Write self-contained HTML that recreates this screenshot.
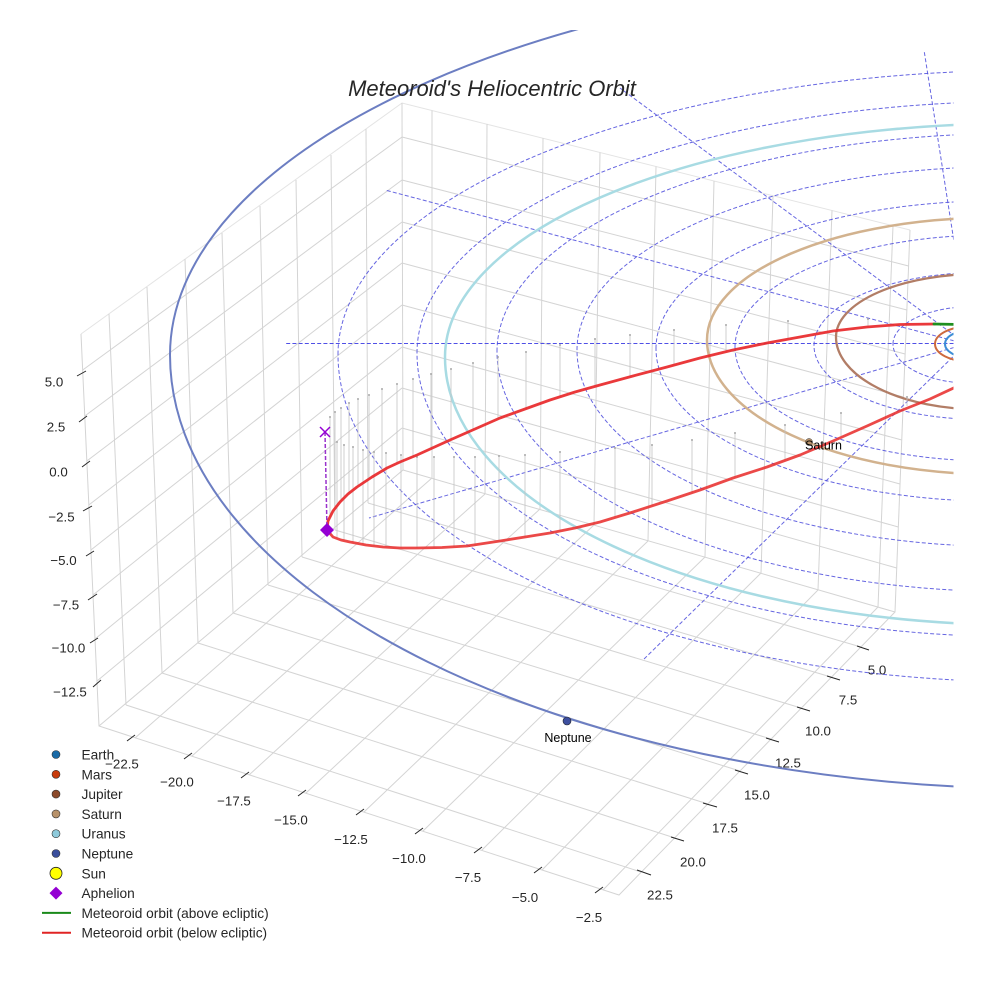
<!DOCTYPE html>
<html><head><meta charset="utf-8"><style>
html,body{margin:0;padding:0;background:#fff;}
svg{display:block;font-family:"Liberation Sans",Arial,sans-serif;}
</style></head><body>
<svg width="984" height="984" viewBox="0 0 984 984" xmlns="http://www.w3.org/2000/svg">
<defs><clipPath id="c"><rect x="0" y="30" width="953.5" height="930"/></clipPath></defs>
<rect width="984" height="984" fill="#fff"/>

<!-- pane outlines -->
<g fill="none" stroke="#e4e4e4" stroke-width="1">
<path d="M81,334 L402,103 L910,230"/>
</g>
<g fill="none" stroke="#d4d4d4" stroke-width="1">
<path d="M81,334 L99,726 L619,895 L895,612 L910,230"/>
<path d="M402,103 L403,470 L99,726"/>
<path d="M403,470 L895,612"/>
<path d="M126,705 L109,314 M162,673 L147,287 M198,643 L185,259 M233,613 L222,233 M268,585 L260,206 M302,557 L296,180 M335,530 L331,155 M368,503 L366,129"/>
<path d="M82.7,370 L402,137 M84.8,416 L402,180 M86.8,461 L402,222 M88.8,505 L402,263 M90.9,550 L402,305 M93,595 L402,347 M95,639 L402,388 M97,681 L402,428"/>
<path d="M402,137 L908.6,266 M402,180 L906.9,310 M402,222 L905.1,354 M402,263 L903.5,397 M402,305 L901.8,440 M402,347 L900,484 M402,388 L898.3,527 M402,428 L896.7,568"/>
<path d="M432,110.5 L432,478 M487,124 L485,494 M543,138 L540,509 M600,152.5 L594,525 M656,166.5 L648,541 M714,181 L705,557 M773,196 L761,573 M832,210.5 L818,590 M893,226 L878,607"/>
<path d="M135,738 L432,478 M192,756 L485,494 M249,775 L540,509 M306,793 L594,525 M364,812 L648,541 M423,831 L705,557 M482,850 L761,573 M542,870 L818,590 M603,890 L878,607"/>
<path d="M126,705 L641,872 M162,673 L675,838 M198,643 L708,804 M233,613 L740,771 M268,585 L771,739 M302,557 L801,708 M335,530 L831,677 M368,503 L861,647"/>
</g>

<!-- ticks -->
<g stroke="#262626" stroke-width="1" fill="none">
<path d="M77,376 L86,371 M79,422 L87,416 M82,467 L90,461 M83,511 L92,506 M86,556 L94,551 M88,600 L97,594 M90,643 L98,638 M93,687 L101,680"/>
<path d="M127,741 L135,735 M184,759 L192,753 M241,778 L249,772 M298,796 L306,790 M356,815 L364,809 M415,834 L423,828 M474,853 L482,847 M534,873 L542,867 M595,893 L603,887"/>
<path d="M857,646 L869,650 M827,676 L840,680 M797,707 L810,711 M766,738 L779,742 M735,770 L748,774 M703,803 L717,807 M671,837 L684,841 M637,870 L651,875"/>
</g>

<!-- tick labels -->
<g font-size="13.3" fill="#262626" text-anchor="middle">
<text x="54" y="386.5">5.0</text>
<text x="56" y="431.5">2.5</text>
<text x="58.5" y="476.5">0.0</text>
<text x="61.5" y="521.5">−2.5</text>
<text x="63.5" y="565">−5.0</text>
<text x="66" y="609.5">−7.5</text>
<text x="68.5" y="652.5">−10.0</text>
<text x="70" y="696.5">−12.5</text>

<text x="122" y="768.5">−22.5</text>
<text x="177" y="786.7">−20.0</text>
<text x="234" y="805.7">−17.5</text>
<text x="291" y="824.7">−15.0</text>
<text x="351" y="844.2">−12.5</text>
<text x="409" y="863.2">−10.0</text>
<text x="468" y="882.2">−7.5</text>
<text x="525" y="902.2">−5.0</text>
<text x="589" y="922.2">−2.5</text>

<text x="877" y="674.7">5.0</text>
<text x="848" y="704.7">7.5</text>
<text x="818" y="735.7">10.0</text>
<text x="788" y="767.7">12.5</text>
<text x="757" y="799.7">15.0</text>
<text x="725" y="832.7">17.5</text>
<text x="693" y="866.7">20.0</text>
<text x="660" y="899.7">22.5</text>
</g>

<g clip-path="url(#c)">
<g fill="none" stroke="#4b4bdc" stroke-opacity="0.85" stroke-width="1" stroke-dasharray="4,2.2">
<path d="M893,344 A80.7,37.5 0 0 1 1054.4,344 A80.7,39.5 0 0 1 893,344"/>
<path d="M814,345.5 A168,73 0 0 1 1150,345.5 A168,74 0 0 1 814,345.5"/>
<path d="M735,347 A255.4,112 0 0 1 1245.8,347 A255.4,114 0 0 1 735,347"/>
<path d="M656,348.5 A342.7,147.8 0 0 1 1341.4,348.5 A342.7,152.9 0 0 1 656,348.5"/>
<path d="M577,350 A430,183.4 0 0 1 1437,350 A430,196.6 0 0 1 577,350"/>
<path d="M497,351.5 A518.5,218.1 0 0 1 1534,351.5 A518.5,240.3 0 0 1 497,351.5"/>
<path d="M417,353 A606.9,251.7 0 0 1 1630.8,353 A606.9,284 0 0 1 417,353"/>
<path d="M338,354.5 A694.3,284.4 0 0 1 1726.6,354.5 A694.3,327.6 0 0 1 338,354.5"/>
<path d="M966,344 L385,190 M966,344 L620,88 M970,344 L924,50 M966,344 L369,518 M966,344 L643,660"/>
</g>
<path d="M966,343.5 L285,343.5" fill="none" stroke="#4f4fe6" stroke-width="1" stroke-dasharray="4,2.2"/>

<g fill="none">
<path d="M170,355 A880,386 0 0 1 1930,355 A880,434 0 0 1 170,355" stroke="#6c7ec2" stroke-width="2"/>
<path d="M445,357 A576,233.6 0 0 1 1597,357 A576,267.9 0 0 1 445,357" stroke="#a8dbe3" stroke-width="2.5"/>
<path d="M707,340 A286.3,122.3 0 0 1 1279.6,340 A286.3,134.3 0 0 1 707,340" stroke="#d2b28e" stroke-width="2.5"/>
<path d="M836,337 A143.7,63.1 0 0 1 1123.4,337 A143.7,72.3 0 0 1 836,337" stroke="#b27d66" stroke-width="2.3"/>
<path d="M935,344 A34.3,17.5 0 0 1 1003.6,344 A34.3,17.5 0 0 1 935,344" stroke="#cd6a3e" stroke-width="2"/>
<path d="M945,344 A23.2,13.2 0 0 1 991.4,344 A23.2,13.2 0 0 1 945,344" stroke="#3d8ed6" stroke-width="2"/>
</g>

<g stroke="#c4c4c4" stroke-width="0.8" fill="none">
<path d="M330,417 L330,517 M335,412 L335,509 M341,408 L341,501 M349,403 L349,493 M358,399 L358,486 M369,395 L369,479 M382,389 L382,471 M397,384 L397,463 M413,379 L413,457 M431,374 L431,450 M451,369 L451,440 M473,363 L473,430 M498,357 L498,419 M526,352 L526,409 M560,345 L560,397 M595,339 L595,386 M630,335 L630,377 M674,330 L674,365 M726,325 L726,352 M788,321 L788,339 M868,319 L868,327"/>
<path d="M337,442 L337,538 M344,445 L344,540 M353,447 L353,542.5 M363,450 L363,544.5 M374,452 L374,546 M386,453 L386,547 M401,455 L401,548 M417,457 L417,548 M434,457 L434,548 M454,457 L454,547 M475,457 L475,545.5 M499,456 L499,541 M525,455 L525,537 M560,452 L560,531 M615,448 L615,517 M652,445 L652,506 M692,440 L692,493 M735,433 L735,477 M785,425 L785,460 M841,413 L841,436 M907,397 L907,406"/>
</g>
<g fill="#a8a8a8">
<circle cx="330" cy="417" r="1"/><circle cx="335" cy="412" r="1"/><circle cx="341" cy="408" r="1"/><circle cx="349" cy="403" r="1"/><circle cx="358" cy="399" r="1"/><circle cx="369" cy="395" r="1"/><circle cx="382" cy="389" r="1"/><circle cx="397" cy="384" r="1"/><circle cx="413" cy="379" r="1"/><circle cx="431" cy="374" r="1"/><circle cx="451" cy="369" r="1"/><circle cx="473" cy="363" r="1"/><circle cx="498" cy="357" r="1"/><circle cx="526" cy="352" r="1"/><circle cx="560" cy="345" r="1"/><circle cx="595" cy="339" r="1"/><circle cx="630" cy="335" r="1"/><circle cx="674" cy="330" r="1"/><circle cx="726" cy="325" r="1"/><circle cx="788" cy="321" r="1"/><circle cx="868" cy="319" r="1"/>
<circle cx="337" cy="442" r="1"/><circle cx="344" cy="445" r="1"/><circle cx="353" cy="447" r="1"/><circle cx="363" cy="450" r="1"/><circle cx="374" cy="452" r="1"/><circle cx="386" cy="453" r="1"/><circle cx="401" cy="455" r="1"/><circle cx="417" cy="457" r="1"/><circle cx="434" cy="457" r="1"/><circle cx="454" cy="457" r="1"/><circle cx="475" cy="457" r="1"/><circle cx="499" cy="456" r="1"/><circle cx="525" cy="455" r="1"/><circle cx="560" cy="452" r="1"/><circle cx="615" cy="448" r="1"/><circle cx="652" cy="445" r="1"/><circle cx="692" cy="440" r="1"/><circle cx="735" cy="433" r="1"/><circle cx="785" cy="425" r="1"/><circle cx="841" cy="413" r="1"/><circle cx="907" cy="397" r="1"/>
</g>

<g fill="none" stroke-width="2.8" stroke-linejoin="round" stroke-linecap="round">
<path stroke="#e8282a" stroke-opacity="0.92" d="M327,530 L328,521 L333,511 L340,502 L348,494 L357,487 L372,477 L387,468 L400,462 L417,455 L450,440 L475,429 L500,418 L525,409 L550,400 L575,392 L600,385 L633,376 L667,367 L700,358 L733,350 L767,343 L800,337 L833,331 L867,327 L900,324.5 L935,324"/>
<path stroke="#e8302f" stroke-opacity="0.88" d="M327,530 L333,537 L341,540 L350,542 L366,545 L383,547 L400,548 L417,548 L442,547.5 L467,546 L500,541 L525,537 L550,533 L575,528 L600,522 L633,512 L667,501 L700,490 L733,478 L767,467 L800,455 L833,441 L867,426 L900,411 L930,399 L960,385"/>
<path stroke="#1f8f1f" d="M934,324 L960,324.5"/>
</g>

<path d="M325,432 L327,530" stroke="#9932cc" stroke-width="1.5" stroke-dasharray="4,2" fill="none"/>
<path d="M320,427 L330,437 M330,427 L320,437" stroke="#9400d3" stroke-width="1.5"/>
<path d="M327,523 L334,530 L327,537 L320,530 Z" fill="#9400d3"/>

<circle cx="809" cy="442" r="3.5" fill="#b8926a" stroke="#333" stroke-width="0.5"/>
<circle cx="567" cy="721" r="4" fill="#3d4f9f" stroke="#222" stroke-width="0.6"/>
</g>

<text x="823.5" y="449.5" font-size="12.5" fill="#000" text-anchor="middle">Saturn</text>
<text x="568" y="742" font-size="12.5" fill="#000" text-anchor="middle">Neptune</text>

<text x="492" y="96" font-size="22" font-style="italic" fill="#262626" text-anchor="middle">Meteoroid's Heliocentric Orbit</text>

<g stroke="#333" stroke-width="0.6">
<circle cx="56" cy="754.5" r="4" fill="#1a6aa6"/>
<circle cx="56" cy="774.3" r="4" fill="#c83c0c"/>
<circle cx="56" cy="794.1" r="4" fill="#8c4a2b"/>
<circle cx="56" cy="813.9" r="4" fill="#b8926a"/>
<circle cx="56" cy="833.7" r="4" fill="#8ecadb"/>
<circle cx="56" cy="853.5" r="4" fill="#3a4e9c"/>
<circle cx="56" cy="873.3" r="6" fill="#ffff00" stroke="#222" stroke-width="0.8"/>
</g>
<path d="M56,886.6 L62.5,893.1 L56,899.6 L49.5,893.1 Z" fill="#9400d3"/>
<path d="M42,912.9 L71,912.9" stroke="#1a8a1a" stroke-width="2"/>
<path d="M42,932.7 L71,932.7" stroke="#e02424" stroke-width="2"/>
<g font-size="13.7" fill="#262626">
<text x="81.5" y="759.5">Earth</text>
<text x="81.5" y="779.3">Mars</text>
<text x="81.5" y="799.1">Jupiter</text>
<text x="81.5" y="818.9">Saturn</text>
<text x="81.5" y="838.7">Uranus</text>
<text x="81.5" y="858.5">Neptune</text>
<text x="81.5" y="878.3">Sun</text>
<text x="81.5" y="898.1">Aphelion</text>
<text x="81.5" y="917.9">Meteoroid orbit (above ecliptic)</text>
<text x="81.5" y="937.7">Meteoroid orbit (below ecliptic)</text>
</g>
</svg>
</body></html>
